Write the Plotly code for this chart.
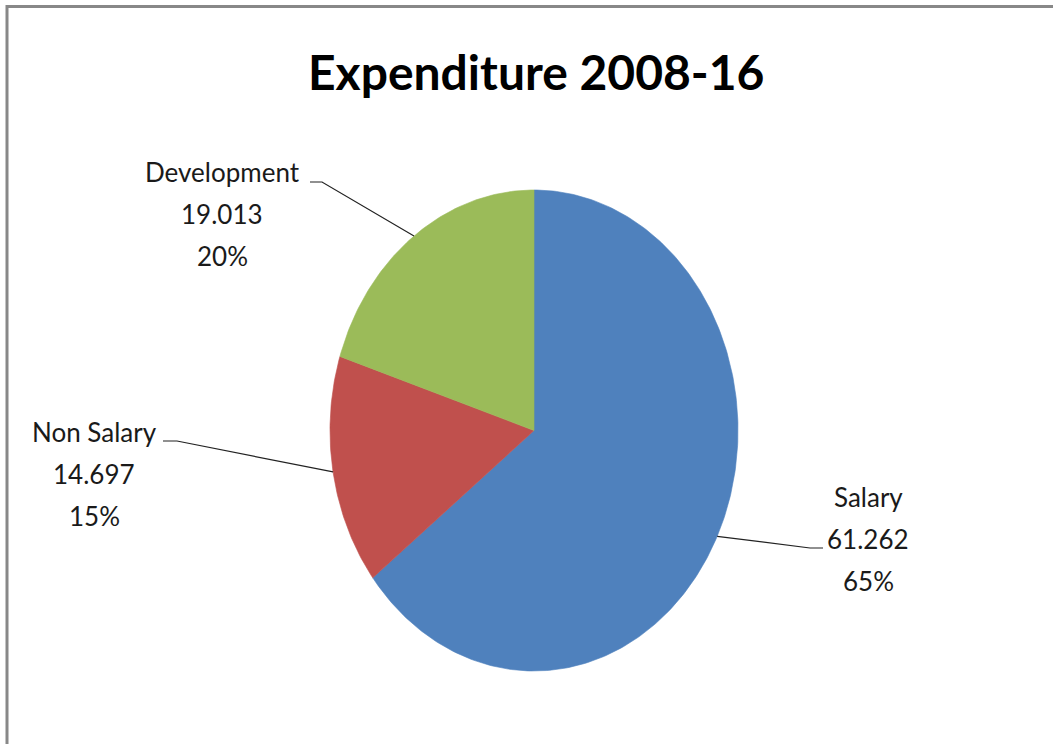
import math
import plotly.graph_objects as go

# ---- data ----
categories = ["Salary", "Non Salary", "Development"]
values = [61.262, 14.697, 19.013]
colors = ["#4F81BD", "#C0504D", "#9BBB59"]
title_text = "Expenditure 2008-16"
unit_text = "(Rupees in Billion)"

# ---- geometry (pixel space) ----
W, H = 1053, 744
CX, CY = 534, 430.5
RX, RY = 204, 240.5

def pt(frac, r=1.0):
    th = 2 * math.pi * frac
    return CX + RX * r * math.sin(th), CY - RY * r * math.cos(th)

total = sum(values)
fig = go.Figure()

cum = 0.0
mids = []
for cat, v, col in zip(categories, values, colors):
    f0, f1 = cum / total, (cum + v) / total
    n = max(int((f1 - f0) * 400), 8)
    xs, ys = [CX], [CY]
    for i in range(n + 1):
        x, y = pt(f0 + (f1 - f0) * i / n)
        xs.append(x); ys.append(y)
    xs.append(CX); ys.append(CY)
    fig.add_trace(go.Scatter(x=xs, y=ys, mode="lines", fill="toself",
                             fillcolor=col, line=dict(color=col, width=0.6),
                             hoverinfo="skip", showlegend=False))
    mids.append((f0 + f1) / 2)
    cum += v

# label layout: (text anchor x, first line y, elbow points)
label_pos = {
    "Salary": dict(x=868, y=497, knee=(810, 548), end=(823, 548)),
    "Non Salary": dict(x=94, y=432, knee=(177, 441), end=(163, 441)),
    "Development": dict(x=222, y=172, knee=(322, 182), end=(310, 182)),
}

line_gap = 42
font_lbl = dict(family="Lato", size=26, color="#1a1a1a")
annotations = []
for cat, v, m in zip(categories, values, mids):
    lp = label_pos[cat]
    pct = round(v / total * 100)
    lines = [cat, f"{v:.3f}", f"{pct}%"]
    for i, t in enumerate(lines):
        annotations.append(dict(x=lp["x"], y=lp["y"] + i * line_gap, xref="x", yref="y",
                                text=t, showarrow=False, font=font_lbl,
                                xanchor="center", yanchor="middle"))
    sx, sy = pt(m)
    fig.add_trace(go.Scatter(x=[sx, lp["knee"][0], lp["end"][0]],
                             y=[sy, lp["knee"][1], lp["end"][1]],
                             mode="lines", line=dict(color="#222222", width=1.2),
                             hoverinfo="skip", showlegend=False))

annotations.append(dict(x=536, y=71, xref="x", yref="y", text=f"<b>{title_text}</b>",
                        showarrow=False, font=dict(family="Lato", size=48, color="#000000"),
                        xanchor="center", yanchor="middle"))
annotations.append(dict(x=1047, y=1, xref="x", yref="y", text=f"<b>{unit_text}</b>",
                        showarrow=False, font=dict(family="Liberation Serif", size=21, color="#000000"),
                        xanchor="right", yanchor="bottom"))

fig.update_layout(
    width=W, height=H, margin=dict(l=0, r=0, t=0, b=0),
    paper_bgcolor="white", plot_bgcolor="white",
    xaxis=dict(range=[0, W], visible=False, fixedrange=True),
    yaxis=dict(range=[H, 0], visible=False, fixedrange=True),
    annotations=annotations,
    shapes=[dict(type="rect", xref="x", yref="y", x0=7, y0=6.5, x1=W + 10, y1=H + 10,
                 line=dict(color="#888888", width=3), fillcolor="rgba(0,0,0,0)")],
    showlegend=False,
)

fig.write_html("out.html")
